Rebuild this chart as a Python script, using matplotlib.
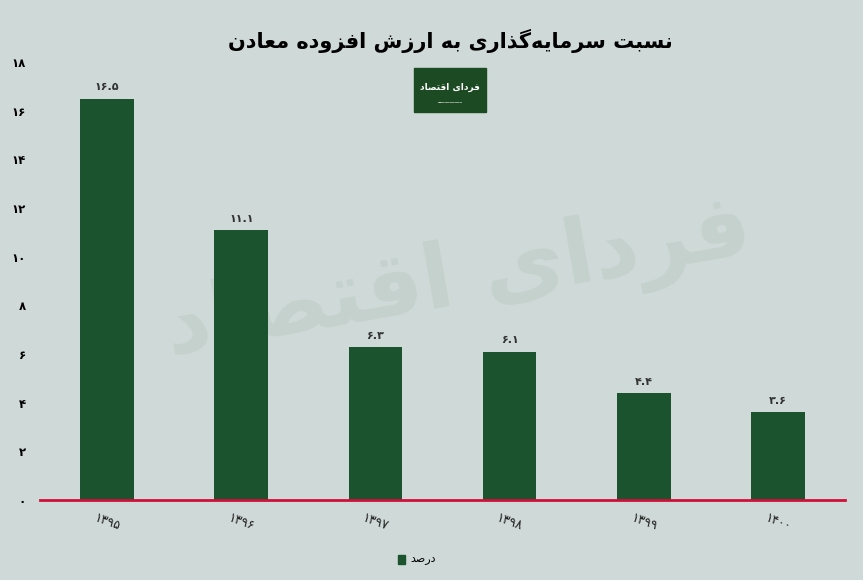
import matplotlib.pyplot as plt
from matplotlib.patches import Rectangle

# داده‌ها
years = ["1395", "1396", "1397", "1398", "1399", "1400"]
values = [16.5, 11.1, 6.3, 6.1, 4.4, 3.6]
y_ticks = [0, 2, 4, 6, 8, 10, 12, 14, 16, 18]

title = "نسبت سرمایه‌گذاری به ارزش افزوده معادن"
legend_label = "درصد"
brand = "فردای اقتصاد"

bg = "#cfd9d7"
bar_color = "#1b532e"

# شکل‌های حروف: منفرد، پایانی، آغازی، میانی
forms = {
    "ا": ("\ufe8d", "\ufe8e", None, None),
    "ب": ("\ufe8f", "\ufe90", "\ufe91", "\ufe92"),
    "ت": ("\ufe95", "\ufe96", "\ufe97", "\ufe98"),
    "د": ("\ufea9", "\ufeaa", None, None),
    "ذ": ("\ufeab", "\ufeac", None, None),
    "ر": ("\ufead", "\ufeae", None, None),
    "ز": ("\ufeaf", "\ufeb0", None, None),
    "س": ("\ufeb1", "\ufeb2", "\ufeb3", "\ufeb4"),
    "ش": ("\ufeb5", "\ufeb6", "\ufeb7", "\ufeb8"),
    "ص": ("\ufeb9", "\ufeba", "\ufebb", "\ufebc"),
    "ع": ("\ufec9", "\ufeca", "\ufecb", "\ufecc"),
    "ف": ("\ufed1", "\ufed2", "\ufed3", "\ufed4"),
    "ق": ("\ufed5", "\ufed6", "\ufed7", "\ufed8"),
    "م": ("\ufee1", "\ufee2", "\ufee3", "\ufee4"),
    "ن": ("\ufee5", "\ufee6", "\ufee7", "\ufee8"),
    "ه": ("\ufee9", "\ufeea", "\ufeeb", "\ufeec"),
    "و": ("\ufeed", "\ufeee", None, None),
    "ی": ("\ufbfc", "\ufbfd", "\ufbfe", "\ufbff"),
    "گ": ("\ufb92", "\ufb93", "\ufb94", "\ufb95"),
}


def fa(text):
    out = []
    for i, ch in enumerate(text):
        if ch not in forms:
            if ch != "\u200c":
                out.append(ch)
            continue
        prev = text[i - 1] if i > 0 else ""
        nxt = text[i + 1] if i + 1 < len(text) else ""
        join_prev = prev in forms and forms[prev][2] is not None
        join_next = forms[ch][2] is not None and nxt in forms
        f = forms[ch]
        if join_prev and join_next:
            out.append(f[3])
        elif join_prev:
            out.append(f[1])
        elif join_next:
            out.append(f[2])
        else:
            out.append(f[0])
    return "".join(reversed(out))


def fa_num(s):
    return s.translate(str.maketrans("0123456789", "۰۱۲۳۴۵۶۷۸۹"))


fig = plt.figure(figsize=(8.63, 5.80), dpi=100, facecolor=bg)
ax = fig.add_axes([40 / 863, 80 / 580, 805 / 863, 438 / 580])
ax.set_facecolor(bg)

# واترمارک پشت ستون‌ها
ax.text(0.52, 0.5, fa(brand), transform=ax.transAxes, fontsize=64, color="#c5d1cd",
        ha="center", va="center", rotation=10, fontweight="bold", zorder=1)

x = range(len(years))
bars = ax.bar(x, values, width=0.4, color=bar_color, zorder=3)
for b, v in zip(bars, values):
    ax.text(b.get_x() + b.get_width() / 2, v + 0.25, fa_num(str(v)),
            ha="center", va="bottom", fontsize=8, fontweight="bold", color="#333333", zorder=5)

ax.set_xlim(-0.5, 5.5)
ax.set_ylim(0, 18)
ax.set_yticks(y_ticks)
ax.set_yticklabels([fa_num(str(t)) for t in y_ticks], fontsize=8.5, fontweight="bold")
ax.set_xticks(list(x))
ax.set_xticklabels([fa_num(y) for y in years], rotation=-20, fontsize=9, color="#222222")
ax.tick_params(axis="y", length=0, pad=10)
ax.tick_params(axis="x", length=0, pad=8)
for s in ax.spines.values():
    s.set_visible(False)
ax.axhline(0, color="#d0103a", lw=2, zorder=4, clip_on=False)

fig.text(450 / 863, 1 - 41 / 580, fa(title), fontsize=15, fontweight="bold", ha="center", va="center")

# لوگو
fig.patches.append(Rectangle((414 / 863, 1 - 112 / 580), 72 / 863, 44 / 580,
                             transform=fig.transFigure, color="#1c4a22"))
fig.text(450 / 863, 1 - 87 / 580, fa(brand), fontsize=6.5, color="white",
         ha="center", va="center", fontweight="bold")
fig.text(450 / 863, 1 - 103 / 580, "─" * 10, fontsize=3, color="#dddddd",
         ha="center", va="center")

# راهنما
fig.patches.append(Rectangle((398 / 863, 1 - 564 / 580), 7 / 863, 9 / 580,
                             transform=fig.transFigure, color=bar_color))
fig.text(410 / 863, 1 - 559 / 580, fa(legend_label), fontsize=8, ha="left", va="center")

fig.savefig("out.png", dpi=100, facecolor=bg)
